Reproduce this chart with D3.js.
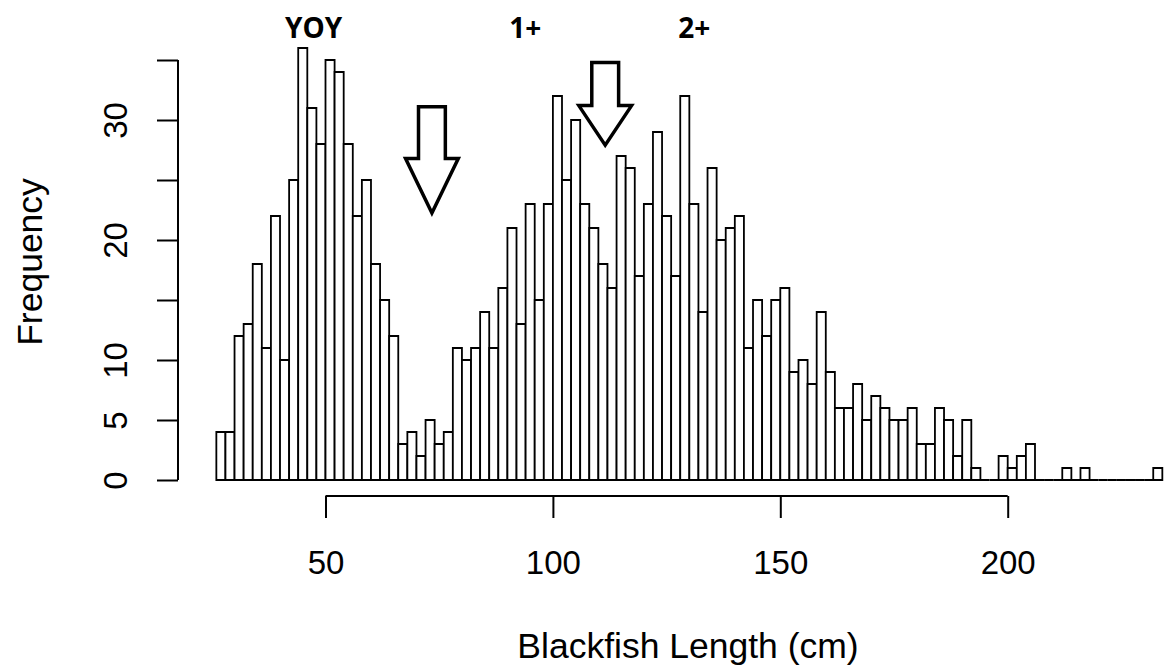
<!DOCTYPE html>
<html>
<head>
<meta charset="utf-8">
<script src="https://cdnjs.cloudflare.com/ajax/libs/d3/7.8.5/d3.min.js"></script>
<style>
  html, body { margin: 0; padding: 0; background: #fff; }
  svg { display: block; font-family: "Liberation Sans", Arial, sans-serif; }
</style>
</head>
<body>
<div id="chart"></div>
<script>
// histogram of blackfish lengths, 2 cm bins starting at 26 cm
var binStart = 26;
var binWidth = 2;
var counts = [
  4, 4, 12, 13, 18, 11, 22, 10, 25, 36,
  31, 28, 35, 34, 28, 22, 25, 18, 15, 12,
  3, 4, 2, 5, 3, 4, 11, 10, 11, 14,
  11, 16, 21, 13, 23, 15, 23, 32, 25, 30,
  23, 21, 18, 16, 27, 26, 17, 23, 29, 22,
  17, 32, 23, 14, 26, 20, 21, 22, 11, 15,
  12, 15, 16, 9, 10, 8, 14, 9, 6, 6,
  8, 5, 7, 6, 5, 5, 6, 3, 3, 6,
  5, 2, 5, 1, 0, 0, 2, 1, 2, 3,
  0, 0, 0, 1, 0, 1, 0, 0, 0, 0,
  0, 0, 0, 1
];

var xTicks = [50, 100, 150, 200];
var yTicks = [0, 5, 10, 15, 20, 25, 30, 35];
var yLabelled = [0, 5, 10, 20, 30];

// cohort labels and the two break arrows (in data units)
var cohortNames = ["YOY", "1+", "2+"];
var cohortAt = [47.4, 93.9, 131.1];
var arrowTip = [[73.4, 22.25], [111.5, 27.9]];
var arrowTop = [31.1, 34.8];
var arrowNeck = [26.8, 31.2];

var bins = counts.map(function (c, i) {
  return { x0: binStart + i*binWidth, x1: binStart + (i + 1)*binWidth, n: c };
});

var width = 1164, height = 665;

var x = d3.scaleLinear().domain([50, 200]).range([325.5, 1007.7]);
var y = d3.scaleLinear().domain([0, 35]).range([480, 60]);

var svg = d3.select("#chart").append("svg")
  .attr("width", width)
  .attr("height", height);

svg.append("rect").attr("width", width).attr("height", height).attr("fill", "#fff");

// bars (zero-height bins still leave a line on the baseline, as in R)
svg.append("g")
  .selectAll("path")
  .data(bins)
  .join("path")
  .attr("d", function (d) {
    var p = d3.path();
    p.rect(x(d.x0), y(d.n), x(d.x1) - x(d.x0), y(0) - y(d.n));
    return p.toString();
  })
  .attr("fill", "#fff")
  .attr("stroke", "#000")
  .attr("stroke-width", 1.8);

// x axis
var xAxis = svg.append("g")
  .attr("transform", "translate(0,496)")
  .call(d3.axisBottom(x).tickValues(xTicks).tickSize(22).tickSizeOuter(0));
xAxis.select(".domain").remove();
xAxis.append("line")
  .attr("x1", x(xTicks[0])).attr("x2", x(xTicks[xTicks.length - 1]))
  .attr("stroke", "#000").attr("stroke-width", 2);
xAxis.selectAll(".tick line").attr("stroke", "#000").attr("stroke-width", 2);
xAxis.selectAll(".tick text")
  .attr("y", 78).attr("dy", 0)
  .attr("fill", "#000")
  .style("font-family", "'Liberation Sans', Arial, sans-serif")
  .style("font-size", "33px");

// y axis
var yAxis = svg.append("g")
  .attr("transform", "translate(178,0)")
  .call(d3.axisLeft(y).tickValues(yTicks).tickSize(21).tickSizeOuter(0)
    .tickFormat(function (d) { return yLabelled.indexOf(d) >= 0 ? d : ""; }));
yAxis.select(".domain").remove();
yAxis.append("line")
  .attr("y1", y(0)).attr("y2", y(35))
  .attr("stroke", "#000").attr("stroke-width", 2);
yAxis.selectAll(".tick line").attr("stroke", "#000").attr("stroke-width", 2);
yAxis.selectAll(".tick text")
  .attr("transform", "rotate(-90)")
  .attr("x", 0).attr("y", -51).attr("dy", 0)
  .attr("text-anchor", "middle")
  .attr("fill", "#000")
  .style("font-family", "'Liberation Sans', Arial, sans-serif")
  .style("font-size", "33px");

// axis titles
svg.append("text")
  .attr("x", 688).attr("y", 658)
  .attr("text-anchor", "middle")
  .style("font-size", "35.5px")
  .text("Blackfish Length (cm)");

svg.append("text")
  .attr("transform", "translate(42,262) rotate(-90)")
  .attr("text-anchor", "middle")
  .style("font-size", "35.5px")
  .text("Frequency");

// cohort labels
svg.append("g")
  .selectAll("text")
  .data(cohortNames)
  .join("text")
  .attr("x", function (d, i) { return x(cohortAt[i]); })
  .attr("y", 38)
  .attr("text-anchor", "middle")
  .style("font-family", "'Open Sans', sans-serif")
  .style("font-weight", 700)
  .style("font-size", "28px")
  .text(function (d) { return d; });

// hollow down arrows
var shaftHalf = 2.95, headHalf = 5.8;
svg.append("g")
  .selectAll("path")
  .data(arrowTip)
  .join("path")
  .attr("d", function (d, i) {
    var cx = d[0];
    var pts = [
      [cx - shaftHalf, arrowTop[i]], [cx + shaftHalf, arrowTop[i]],
      [cx + shaftHalf, arrowNeck[i]], [cx + headHalf, arrowNeck[i]],
      [cx, d[1]],
      [cx - headHalf, arrowNeck[i]], [cx - shaftHalf, arrowNeck[i]]
    ];
    return d3.line().x(function (p) { return x(p[0]); }).y(function (p) { return y(p[1]); })(pts) + "Z";
  })
  .attr("fill", "#fff")
  .attr("stroke", "#000")
  .attr("stroke-width", 3.5)
  .attr("stroke-linejoin", "miter");
</script>
</body>
</html>
